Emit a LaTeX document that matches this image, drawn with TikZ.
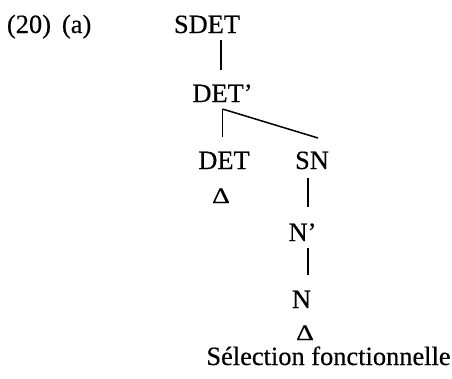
\documentclass[tikz,border=0pt]{standalone}
\usepackage{fontspec}
\setmainfont{Liberation Serif}[FakeBold=0.4]
\usetikzlibrary{calc}
\begin{document}
\begin{tikzpicture}[x=1pt,y=-1pt,
  lab/.style={font=\fontsize{26.4}{30}\selectfont, inner sep=0pt, outer sep=0pt,
              anchor=base, text height=17pt, text depth=0pt},
  delta/.style={font=\fontsize{22}{26}\selectfont, inner sep=0pt, anchor=base},
  branch/.style={line width=1.5pt, line cap=butt}]
\useasboundingbox (0,0) rectangle (452,378);

% example number
\node[lab, anchor=base west] (num) at (7,33) {(20)};
\node[lab, anchor=base west] (sub) at (62,33) {(a)};

% tree nodes
\node[lab] (sdet) at (207,33) {SDET};
\node[lab] (detp) at (222.5,102) {DET’};
\node[lab] (det)  at (224,169) {DET};
\node[lab] (sn)   at (312,169) {SN};
\node[lab] (np)   at (302.5,241) {N’};
\node[lab] (n)    at (301.5,308) {N};
\node[delta] (d1) at (221,203) {\scalebox{1.25}[1]{Δ}};
\node[delta] (d2) at (305,340) {\scalebox{1.25}[1]{Δ}};
\node[lab] (cap)  at (328.5,365) {Sélection fonctionnelle};

% branch points
\coordinate (fork)  at ([yshift=-7pt]detp.south);
\coordinate (spine) at ([xshift=-4pt]sn.south);

% branches
\draw[branch] ([yshift=-7pt,xshift=-1.5pt]sdet.south -| detp) -- ([yshift=15pt,xshift=-1.5pt]detp.north);
\draw[branch] (fork) -- ([yshift=15pt]det.north -| fork);
\draw[branch] (fork) -- ($(sn.north)+(6,-14)$);
\draw[branch] ([yshift=-9pt]spine) -- ([yshift=17pt]np.north -| spine);
\draw[branch] ([yshift=-7pt]np.south -| spine) -- ([yshift=16pt]n.north -| spine);
\end{tikzpicture}
\end{document}
